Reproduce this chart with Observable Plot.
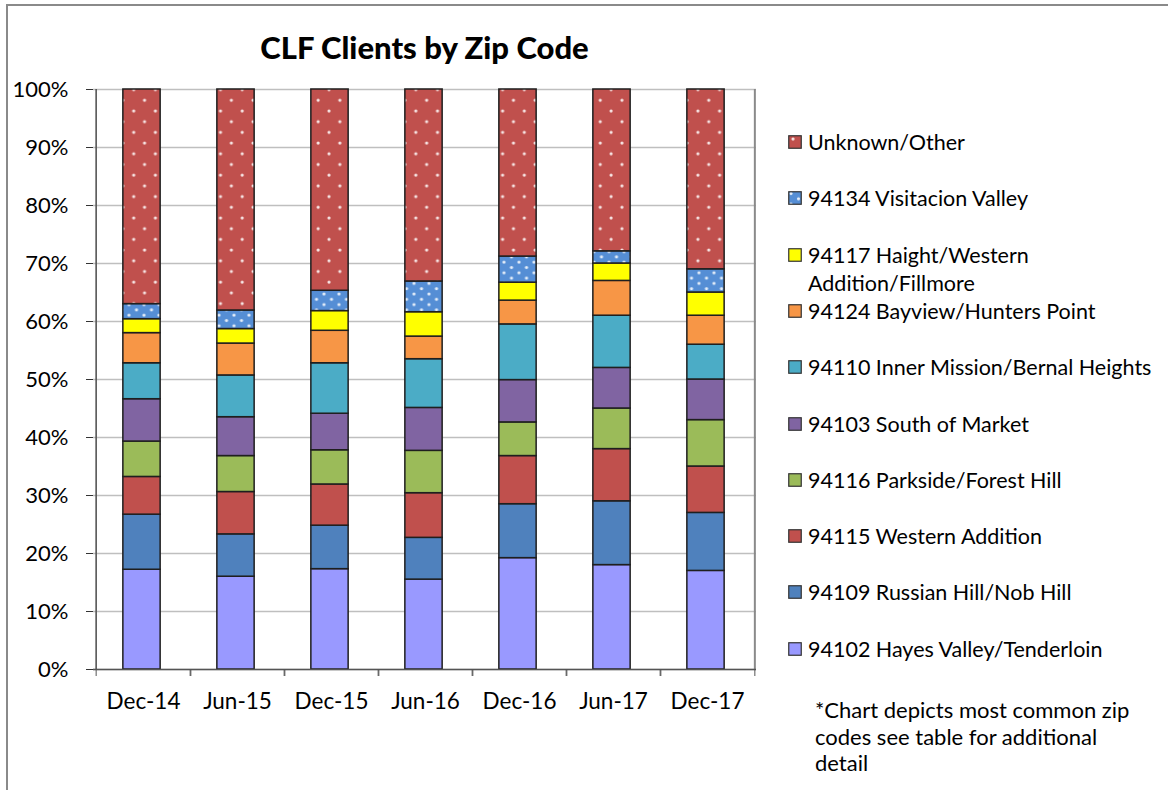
<!DOCTYPE html>
<html>
<head>
<meta charset="utf-8">
<script src="https://cdn.jsdelivr.net/npm/d3@7"></script>
<script src="https://cdn.jsdelivr.net/npm/@observablehq/plot@0.6"></script>
<style>
  body { margin: 0; background: #fff; }
  #wrap { position: relative; width: 1168px; height: 790px; font-family: Lato, "Open Sans", sans-serif; color: #000; overflow: hidden; }
  #wrap > svg { position: absolute; left: 0; top: 0; }
  #border { position: absolute; left: 6px; top: 4px; width: 1200px; height: 900px; border-left: 2px solid #8a8a8a; border-top: 2px solid #8a8a8a; }
  #title { position: absolute; left: 93px; width: 663px; top: 28px; text-align: center; font-weight: 900; font-size: 31px; line-height: 38px; }
  .leg { position: absolute; left: 788px; font-size: 21.5px; line-height: 28px; white-space: pre-line; }
  .leg svg { position: absolute; left: 0; top: 7px; }
  .leg span { position: absolute; left: 20px; top: 0; width: 380px; }
  #note { position: absolute; left: 815px; top: 697px; font-size: 22px; line-height: 26.5px; width: 340px; }
</style>
</head>
<body>
<div id="wrap">
  <div id="border"></div>
  <div id="title">CLF Clients by Zip Code</div>
  <div id="note">*Chart depicts most common zip codes see table for additional detail</div>
</div>
<script>
// ---- data ----
const dates = ["Dec-14", "Jun-15", "Dec-15", "Jun-16", "Dec-16", "Jun-17", "Dec-17"];
const zips = [
  "94102 Hayes Valley/Tenderloin",
  "94109 Russian Hill/Nob Hill",
  "94115 Western Addition",
  "94116 Parkside/Forest Hill",
  "94103 South of Market",
  "94110 Inner Mission/Bernal Heights",
  "94124 Bayview/Hunters Point",
  "94117 Haight/Western Addition/Fillmore",
  "94134 Visitacion Valley",
  "Unknown/Other"
];
const v94102 = [17.2, 16.0, 17.3, 15.5, 19.2, 18.0, 17.0];
const v94109 = [9.5, 7.3, 7.5, 7.2, 9.3, 11.0, 10.0];
const v94115 = [6.5, 7.3, 7.1, 7.7, 8.3, 9.0, 8.0];
const v94116 = [6.1, 6.2, 5.9, 7.3, 5.8, 7.0, 8.0];
const v94103 = [7.3, 6.7, 6.3, 7.4, 7.3, 7.0, 7.0];
const v94110 = [6.2, 7.2, 8.7, 8.4, 9.6, 9.0, 6.0];
const v94124 = [5.2, 5.5, 5.6, 3.9, 4.1, 6.0, 5.0];
const v94117 = [2.4, 2.5, 3.4, 4.2, 3.1, 3.0, 4.0];
const v94134 = [2.6, 3.2, 3.5, 5.3, 4.5, 2.1, 4.0];
const vUnknown = [37.0, 38.1, 34.7, 33.1, 28.8, 27.9, 31.0];
const yTicks = [0, 10, 20, 30, 40, 50, 60, 70, 80, 90, 100];
const fills = ["#9999FF", "#4F81BD", "#C0504D", "#9BBB59", "#8064A2", "#4BACC6", "#F79646", "#FFFF00", "url(#dotBlue)", "url(#dotRed)"];

const series = [v94102, v94109, v94115, v94116, v94103, v94110, v94124, v94117, v94134, vUnknown];
const data = [];
zips.forEach((z, k) => dates.forEach((d, i) => data.push({zip: z, date: d, value: series[k][i]})));

// ---- layout ----
const W = 1168, H = 790, mL = 93, mR = 412, mT = 89, mB = 121;
const step = (W - mL - mR) / dates.length;
const inset = (step - 38) / 2;

const chart = Plot.plot({
  width: W, height: H,
  marginLeft: mL, marginRight: mR, marginTop: mT, marginBottom: mB,
  style: {fontFamily: "Lato, 'Open Sans', sans-serif", fontSize: "22px", color: "#000", background: "transparent", overflow: "visible"},
  x: {domain: dates, padding: 0, label: null},
  y: {domain: [0, 100], label: null},
  color: {domain: zips, range: fills},
  marks: [
    Plot.gridY(yTicks, {stroke: "#BFBFBF", strokeOpacity: 1, strokeWidth: 1.4}),
    Plot.ruleX([dates[dates.length - 1]], {dx: step / 2, stroke: "#8a8a8a", strokeWidth: 2}),
    Plot.barY(data, {x: "date", y: "value", fill: "zip", stroke: "#1f1f1f", strokeWidth: 1.5, insetLeft: inset, insetRight: inset, dx: -1.5}),
    Plot.ruleX([dates[0]], {dx: -step / 2, stroke: "#555", strokeWidth: 1.6}),
    Plot.ruleY([0], {stroke: "#555", strokeWidth: 1.6}),
    Plot.axisY({ticks: yTicks, tickFormat: d => d + "%", tickSize: 7, tickPadding: 18, stroke: "#333", fill: "#000", fontSize: 22}),
    Plot.axisX({tickSize: 0, tickPadding: 24, fill: "#000", fontSize: 22.5}),
    Plot.axisX({tickSize: 7, tickFormat: () => "", dx: step / 2, stroke: "#555"}),
    Plot.axisX({tickSize: 7, tickFormat: () => "", dx: -step / 2, stroke: "#555"})
  ]
});

// dotted pattern fills
const defs = d3.select(chart).insert("defs", ":first-child");
const pr = defs.append("pattern").attr("id", "dotRed").attr("patternUnits", "userSpaceOnUse").attr("width", 21.7).attr("height", 21.4);
pr.append("rect").attr("width", 21.7).attr("height", 21.4).attr("fill", "#C0504D");
pr.append("circle").attr("cx", 5).attr("cy", 4).attr("r", 1.6).attr("fill", "#fff").attr("opacity", 0.85);
pr.append("circle").attr("cx", 15.85).attr("cy", 14.7).attr("r", 1.6).attr("fill", "#fff").attr("opacity", 0.85);
const pb = defs.append("pattern").attr("id", "dotBlue").attr("patternUnits", "userSpaceOnUse").attr("width", 15).attr("height", 10.6);
pb.append("rect").attr("width", 15).attr("height", 10.6).attr("fill", "#558ED5");
pb.append("circle").attr("cx", 3).attr("cy", 2.5).attr("r", 1.6).attr("fill", "#fff").attr("opacity", 0.85);
pb.append("circle").attr("cx", 10.5).attr("cy", 7.8).attr("r", 1.6).attr("fill", "#fff").attr("opacity", 0.85);

const wrap = document.getElementById("wrap");
wrap.insertBefore(chart, document.getElementById("title"));

// legend (top = last series)
const legendOrder = zips.map((z, i) => i).reverse();
legendOrder.forEach((k, j) => {
  const item = document.createElement("div");
  item.className = "leg";
  item.style.top = (142 + j * 56.3 - 14) + "px";
  const label = zips[k].replace("Western Addition/", "Western\nAddition/");
  item.innerHTML = `<svg width="14" height="14"><rect x="0.75" y="0.75" width="12.5" height="12.5" fill="${fills[k]}" stroke="#333" stroke-width="1.2"/></svg><span></span>`;
  item.querySelector("span").textContent = label;
  wrap.appendChild(item);
});
</script>
</body>
</html>
